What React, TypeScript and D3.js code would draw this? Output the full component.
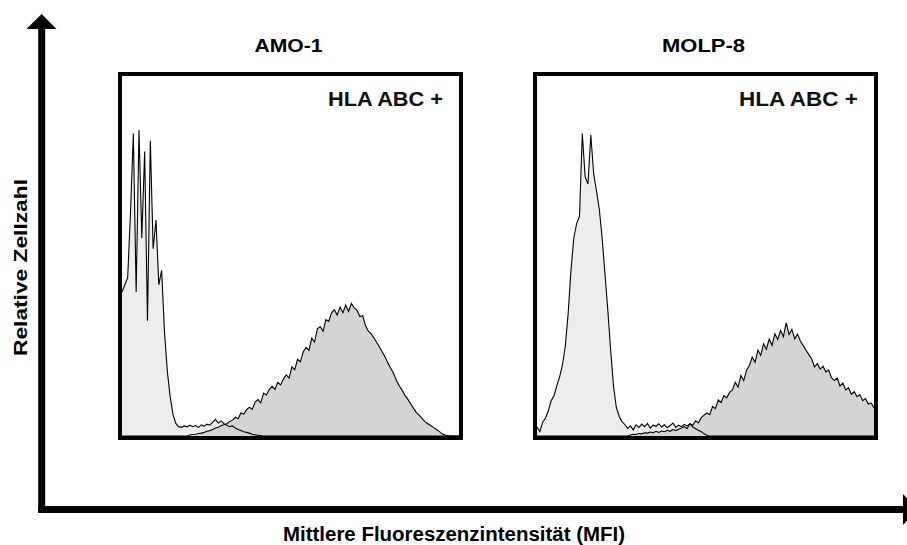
import * as d3 from 'd3';
import React from 'react';

// titles / labels
const panelNames = ['AMO-1', 'MOLP-8'];
const markerLabel = 'HLA ABC +';
const xLabel = 'Mittlere Fluoreszenzintensität (MFI)';
const yLabel = 'Relative Zellzahl';

// histogram counts per channel (120 channels), relative units
const amoIso = [
  40, 42, 44, 62, 84, 40, 85, 55, 79, 32,
  82, 52, 60, 42, 46, 29, 18, 11, 6, 3.5,
  2.6, 2.4, 2.8, 2.5, 3.0, 2.6, 2.9, 2.4, 3.1, 2.7,
  3.3, 3.0, 3.8, 4.6, 3.6, 4.2, 3.4, 3.0, 2.6, 2.8,
  2.2, 1.8, 1.5, 1.2, 1.0, 0.8, 0.5, 0.3, 0.2, 0.1,
  0, 0, 0, 0, 0, 0, 0, 0, 0, 0,
  0, 0, 0, 0, 0, 0, 0, 0, 0, 0,
  0, 0, 0, 0, 0, 0, 0, 0, 0, 0,
  0, 0, 0, 0, 0, 0, 0, 0, 0, 0,
  0, 0, 0, 0, 0, 0, 0, 0, 0, 0,
  0, 0, 0, 0, 0, 0, 0, 0, 0, 0,
  0, 0, 0, 0, 0, 0, 0, 0, 0, 0,
];
const amoHla = [
  0, 0, 0, 0, 0, 0, 0, 0, 0, 0,
  0, 0, 0, 0, 0, 0, 0, 0, 0, 0,
  0, 0, 0, 0, 0.3, 0.4, 0.5, 0.7, 0.8, 1.0,
  1.3, 1.5, 1.8, 2.2, 2.4, 2.9, 3.1, 3.4, 4.0, 4.4,
  5.2, 4.8, 6.4, 6.1, 7.3, 8.0, 7.4, 9.4, 10.1, 9.2,
  11.9, 11.4, 12.9, 13.8, 12.9, 14.9, 14.2, 15.8, 17.0, 16.1,
  19.2, 18.4, 21.3, 20.6, 23.4, 24.6, 23.8, 27.2, 26.1, 29.8,
  30.4, 29.1, 32.3, 31.8, 34.2, 35.1, 33.6, 35.8, 34.2, 36.4,
  34.6, 36.8, 35.6, 34.9, 33.2, 33.4, 30.6, 29.1, 28.4, 27.2,
  25.9, 24.6, 23.2, 21.8, 20.1, 18.7, 17.2, 15.3, 13.8, 12.6,
  11.2, 10.1, 8.9, 7.6, 6.5, 5.7, 4.8, 4.0, 3.4, 2.9,
  2.4, 1.8, 1.3, 0.6, 0.3, 0.1, 0, 0, 0, 0,
];
const molpIso = [
  2.5, 1.2, 3.8, 5.0, 7.0, 9.8, 11.2, 14.0, 16.4, 19.8,
  25, 34, 46, 55, 59, 61, 84, 72, 70, 83.6,
  73, 68, 63, 55, 45, 35, 24, 14, 8, 5.5,
  4.0, 3.2, 2.1, 2.8, 1.7, 3.1, 2.4, 3.3, 2.6, 3.5,
  2.2, 3.0, 2.7, 3.4, 2.5, 3.1, 2.3, 2.9, 3.6, 2.4,
  3.0, 2.6, 3.2, 2.8, 3.4, 2.5, 2.0, 1.6, 1.2, 0.6,
  0.2, 0, 0, 0, 0, 0, 0, 0, 0, 0,
  0, 0, 0, 0, 0, 0, 0, 0, 0, 0,
  0, 0, 0, 0, 0, 0, 0, 0, 0, 0,
  0, 0, 0, 0, 0, 0, 0, 0, 0, 0,
  0, 0, 0, 0, 0, 0, 0, 0, 0, 0,
  0, 0, 0, 0, 0, 0, 0, 0, 0, 0,
];
const molpHla = [
  0, 0, 0, 0, 0, 0, 0, 0, 0, 0,
  0, 0, 0, 0, 0, 0, 0, 0, 0, 0,
  0, 0, 0, 0, 0, 0, 0, 0, 0, 0,
  0, 0, 0, 0.3, 0.5, 0.4, 0.7, 0.6, 0.9, 0.8,
  1.1, 0.9, 1.3, 1.0, 1.4, 1.2, 1.6, 1.3, 1.8, 1.5,
  1.9, 2.2, 2.6, 2.1, 3.4, 3.0, 4.2, 3.6, 5.1, 5.8,
  6.4, 5.9, 8.2, 7.6, 10.0, 9.3, 11.2, 10.6, 12.1, 12.8,
  14.9, 13.6, 16.8, 15.4, 18.3, 19.6, 21.9, 20.5, 23.8, 22.4,
  25.6, 24.1, 26.9, 25.2, 28.4, 26.8, 29.3, 27.6, 31.4, 28.2,
  29.6, 27.0, 28.3, 26.4, 25.1, 23.8, 22.6, 21.4, 19.2, 20.1,
  18.6, 19.4, 17.8, 18.3, 16.2, 15.4, 16.1, 13.9, 14.7, 12.8,
  13.4, 11.6, 12.3, 10.9, 11.5, 9.8, 10.4, 8.9, 9.2, 7.8,
];

const isoSeries = [amoIso, molpIso];
const hlaSeries = [amoHla, molpHla];

export default function App() {
  const width = 907, height = 545;
  const font = '"Liberation Sans", Arial, sans-serif';
  const boxTop = 74, boxBottom = 438, border = 4;
  const boxes = [
    { left: 120, right: 461, titleLen: 68, markLen: 115 },
    { left: 535, right: 876, titleLen: 83, markLen: 119 },
  ];

  const y = d3.scaleLinear().domain([0, 100]).range([boxBottom - border / 2, boxTop + border / 2]);

  return (
    <svg width={width} height={height} style={{ position: 'absolute', left: 0, top: 0, background: '#fff' }}>
      <rect width={width} height={height} fill="#fff" />
      {boxes.map((b, p) => {
        const x = d3.scaleLinear()
          .domain([0, isoSeries[p].length - 1])
          .range([b.left + border / 2, b.right - border / 2]);
        const area = d3.area<number>()
          .x((_, i) => x(i))
          .y0(y(0))
          .y1(d => y(d));
        const line = d3.line<number>()
          .x((_, i) => x(i))
          .y(d => y(d));
        const clipId = 'clip' + p;
        return (
          <g key={p}>
            <clipPath id={clipId}>
              <rect x={b.left + border / 2} y={boxTop + border / 2}
                width={b.right - b.left - border} height={boxBottom - boxTop - border} />
            </clipPath>
            <g clipPath={`url(#${clipId})`}>
              <path d={area(isoSeries[p]) || ''} fill="#ededed" />
              <path d={area(hlaSeries[p]) || ''} fill="#d4d4d4" />
              <path d={line(isoSeries[p]) || ''} fill="none" stroke="#000" strokeWidth={1.1} />
              <path d={line(hlaSeries[p]) || ''} fill="none" stroke="#000" strokeWidth={1.1} />
            </g>
            <rect x={b.left} y={boxTop} width={b.right - b.left} height={boxBottom - boxTop}
              fill="none" stroke="#000" strokeWidth={border} />
            <text x={(b.left + b.right) / 2 - 2} y={52} textAnchor="middle" fontFamily={font}
              fontWeight="bold" fontSize={19} textLength={b.titleLen} lengthAdjust="spacingAndGlyphs">
              {panelNames[p]}
            </text>
            <text x={b.right - 18 - b.markLen} y={106} fontFamily={font} fontWeight="bold" fontSize={21}
              textLength={b.markLen} lengthAdjust="spacingAndGlyphs" fill="#111">
              {markerLabel}
            </text>
          </g>
        );
      })}

      {/* big axes */}
      <line x1={41.7} y1={27} x2={41.7} y2={513} stroke="#000" strokeWidth={7} />
      <path d="M41.7,14 L26.5,29 L56.5,29 Z" fill="#000" />
      <line x1={38.2} y1={509.5} x2={904} y2={509.5} stroke="#000" strokeWidth={7} />
      <path d="M903,494 L918,509.5 L903,525 Z" fill="#000" />

      <text x={283} y={541} fontFamily={font} fontWeight="bold" fontSize={20}
        textLength={342} lengthAdjust="spacingAndGlyphs">
        {xLabel}
      </text>
      <text transform="translate(27,356) rotate(-90)" fontFamily={font} fontWeight="bold" fontSize={19}
        textLength={177} lengthAdjust="spacingAndGlyphs">
        {yLabel}
      </text>
    </svg>
  );
}
